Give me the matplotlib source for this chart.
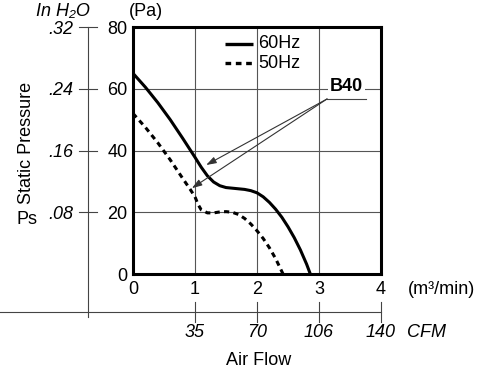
import matplotlib
matplotlib.use("Agg")
import matplotlib.pyplot as plt
import numpy as np

plt.rcParams['font.family'] = ['Liberation Sans', 'DejaVu Sans']

# Data (m3/min, Pa)
x60 = [0.0, 0.2, 0.4, 0.6, 0.8, 1.0, 1.1, 1.2, 1.3, 1.4, 1.5, 1.6, 1.7, 1.8, 1.9, 2.0, 2.1, 2.2, 2.3, 2.4, 2.5, 2.6, 2.7, 2.8, 2.86]
y60 = [65.0, 60.5, 55.5, 50.0, 44.0, 37.8, 34.6, 31.8, 29.8, 28.6, 28.0, 27.8, 27.6, 27.4, 27.0, 26.3, 25.0, 23.2, 21.0, 18.4, 15.3, 11.8, 7.8, 3.2, 0.0]
x50 = [0.0, 0.2, 0.4, 0.6, 0.8, 0.92, 1.0, 1.05, 1.1, 1.2, 1.3, 1.4, 1.5, 1.6, 1.7, 1.8, 1.9, 2.0, 2.1, 2.2, 2.3, 2.42]
y50 = [52.0, 47.5, 42.5, 37.0, 31.0, 27.5, 25.0, 22.5, 20.8, 19.8, 19.8, 20.1, 20.2, 20.0, 19.3, 18.0, 16.2, 14.0, 11.5, 8.5, 5.0, 0.0]

pa_ticks = [0, 20, 40, 60, 80]
inh2o_labels = ['.08', '.16', '.24', '.32']
inh2o_pos = [20, 40, 60, 80]
m3_ticks = [0, 1, 2, 3, 4]
cfm_labels = ['35', '70', '106', '140']
cfm_pos = [1, 2, 3, 4]
series_names = ['60Hz', '50Hz']
model = 'B40'

FS = 13

fig = plt.figure(figsize=(5.0, 3.73), dpi=100)
ax = fig.add_axes([0.266, 0.2654, 0.496, 0.6622])
ax.set_xlim(0, 4)
ax.set_ylim(0, 80)
for s in ax.spines.values():
    s.set_linewidth(2.2)
    s.set_color('black')
ax.set_xticks(m3_ticks)
ax.set_yticks(pa_ticks)
ax.tick_params(length=0, labelsize=FS, colors='black')
ax.tick_params(axis='x', pad=5)
ax.tick_params(axis='y', pad=4)
ax.grid(True, color='#555555', linewidth=0.8)

ax.plot(x60, y60, color='black', lw=2.2, solid_capstyle='butt')
ax.plot(x50, y50, color='black', lw=2.2, linestyle=(0, (1.7, 1.4)))

# legend
ax.plot([1.48, 1.94], [74.5, 74.5], color='black', lw=2.4, solid_capstyle='butt')
ax.plot([1.48, 1.94], [68.3, 68.3], color='black', lw=2.4, linestyle=(0, (1.7, 1.4)))
ax.text(2.02, 74.5, series_names[0], fontsize=FS, va='center', ha='left')
ax.text(2.02, 68.3, series_names[1], fontsize=FS, va='center', ha='left')

# B40 annotation
ax.text(3.44, 60.8, model, fontsize=FS, fontweight='bold', ha='center', va='center',
        bbox=dict(facecolor='white', edgecolor='none', pad=1.5))
ax.plot([3.13, 3.75], [56.7, 56.7], color='#444444', lw=0.8)
for tx, ty in [(1.18, 35.3), (0.95, 27.8)]:
    ax.annotate('', xy=(tx, ty), xytext=(3.13, 56.7),
                arrowprops=dict(arrowstyle='-|>,head_length=0.6,head_width=0.2',
                                color='#333333', lw=0.8, shrinkA=0, shrinkB=0))

# left In H2O axis
ax.plot([-0.726, -0.726], [80, -13.9], color='#444444', lw=0.8, clip_on=False)
for p, lab in zip(inh2o_pos, inh2o_labels):
    ax.plot([-0.871, -0.581], [p, p], color='#444444', lw=0.8, clip_on=False)
    ax.text(-0.968, p, lab, fontsize=FS, style='italic', ha='right', va='center_baseline')
ax.text(-1.13, 83.6, 'In H₂O', fontsize=FS, style='italic', ha='center', va='baseline')
ax.text(0.21, 83.6, '(Pa)', fontsize=FS, ha='center', va='baseline')
ax.text(-1.71, 42.4, 'Static Pressure', fontsize=FS, rotation=90, ha='center', va='center')
ax.text(-1.71, 17.5, 'Ps', fontsize=FS, ha='center', va='center')

# bottom CFM axis
ax.plot([-2.145, 4.0], [-12.3, -12.3], color='#444444', lw=0.8, clip_on=False)
for p, lab in zip(cfm_pos, cfm_labels):
    ax.plot([p, p], [-9.07, -15.5], color='#444444', lw=0.8, clip_on=False)
    ax.text(p, -19.1, lab, fontsize=FS, style='italic', ha='center', va='center')
ax.text(4.42, -19.1, 'CFM', fontsize=FS, style='italic', ha='left', va='center')
ax.text(4.435, -4.86, '(m³/min)', fontsize=FS, ha='left', va='center')
ax.text(2.02, -27.9, 'Air Flow', fontsize=FS, ha='center', va='center')

fig.savefig('out.png', dpi=100)
